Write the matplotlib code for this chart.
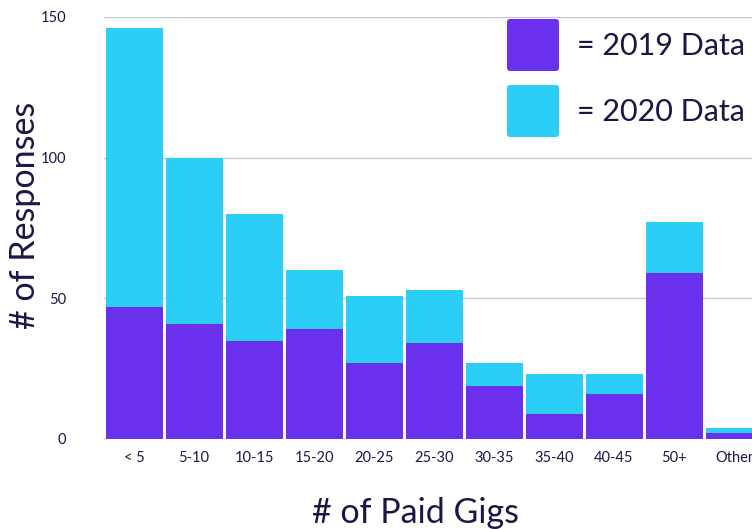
"""Paid gigs survey: 2019 vs 2020 responses, overlapped bars."""
import matplotlib
matplotlib.use("Agg")
import matplotlib.pyplot as plt
from matplotlib.patches import FancyBboxPatch

CATEGORIES = ["< 5", "5-10", "10-15", "15-20", "20-25", "25-30",
              "30-35", "35-40", "40-45", "50+", "Other"]
DATA_2020 = [146, 100, 80, 60, 51, 53, 27, 23, 23, 77, 4]
DATA_2019 = [47, 41, 35, 39, 27, 34, 19, 9, 16, 59, 2]
YTICKS = [0, 50, 100, 150]

PURPLE = "#6B2FEE"
CYAN = "#2BCEF6"
INK = "#1E1446"
GRID = "#C9C6D8"

plt.rcParams.update({"font.family": ["Lato", "DejaVu Sans"]})

W, H = 752, 529
fig = plt.figure(figsize=(W / 100, H / 100), dpi=100)
# axes runs past the right edge, like the cropped original
ax = fig.add_axes([104 / W, 1 - 439 / H, (764 - 104) / W, (439 - 17) / H])

x = range(len(CATEGORIES))
ax.bar(x, DATA_2020, width=0.95, color=CYAN, zorder=2)
ax.bar(x, DATA_2019, width=0.95, color=PURPLE, zorder=3)

ax.set_xlim(-0.5, len(CATEGORIES) - 0.5)
ax.set_ylim(0, 150)
ax.set_yticks(YTICKS)
ax.set_xticks(list(x))
ax.set_xticklabels(CATEGORIES)
ax.tick_params(axis="both", length=0, labelsize=10.5, colors=INK)
ax.tick_params(axis="y", pad=27)
ax.tick_params(axis="x", pad=9)
ax.grid(axis="y", color=GRID, lw=1, zorder=0)
for sp in ax.spines.values():
    sp.set_visible(False)

fig.text(25 / W, 1 - 215 / H, "# of Responses", rotation=90, fontsize=24.5,
         color=INK, ha="center", va="center")
fig.text(415 / W, 1 - 513 / H, "# of Paid Gigs", fontsize=24.5,
         color=INK, ha="center", va="center")

# hand-made legend
for (ytop, col, lab) in [(19, PURPLE, "= 2019 Data"), (85, CYAN, "= 2020 Data")]:
    box = FancyBboxPatch((507 / W, 1 - (ytop + 52) / H), 52 / W, 52 / H,
                         boxstyle="round,pad=0,rounding_size=0.004",
                         mutation_aspect=W / H, transform=fig.transFigure,
                         facecolor=col, edgecolor="none")
    fig.patches.append(box)
    fig.text(577 / W, 1 - (ytop + 27) / H, lab, fontsize=22, color=INK,
             ha="left", va="center")

fig.savefig("out.png", dpi=100)
